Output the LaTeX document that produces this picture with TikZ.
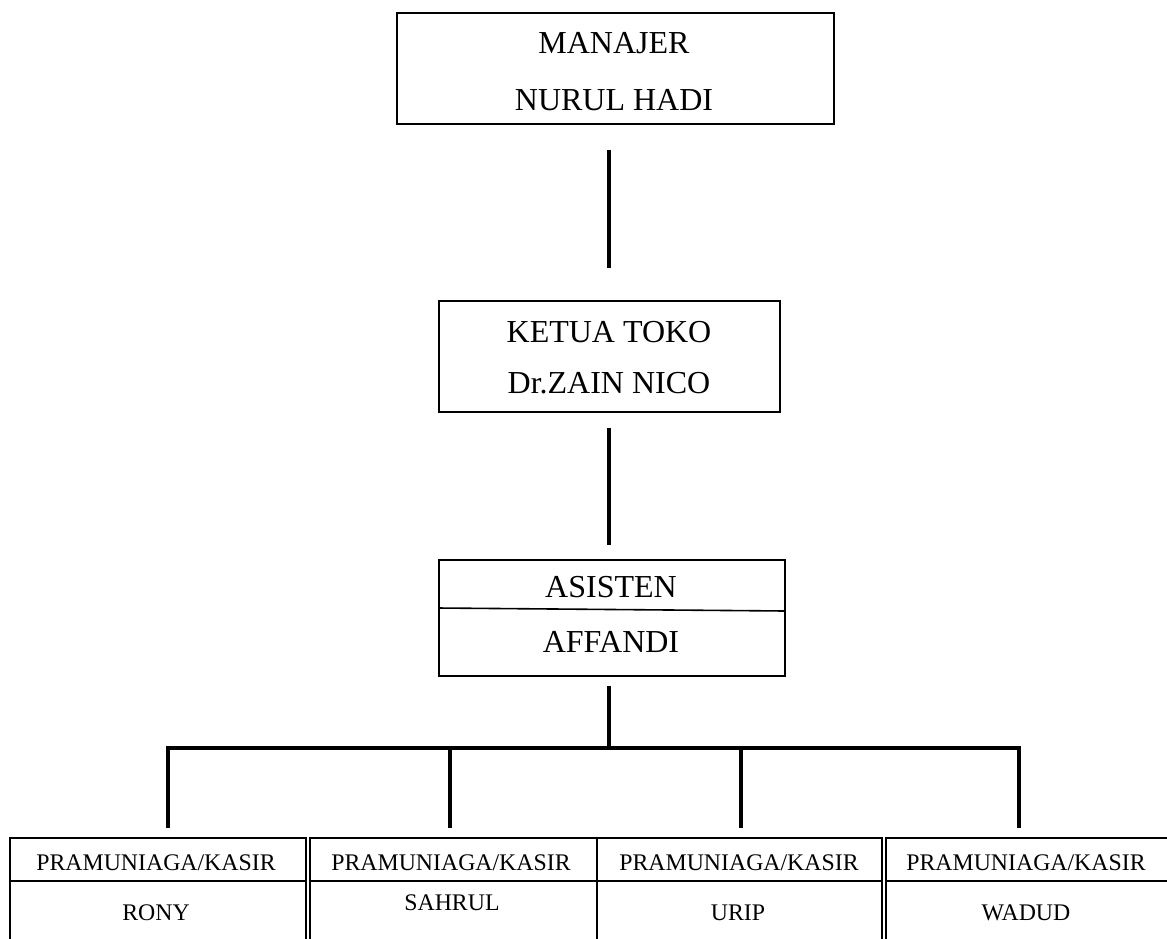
\documentclass[tikz,border=0pt]{standalone}
\usepackage{fontspec}
\setmainfont{Liberation Serif}
\begin{document}
\begin{tikzpicture}[x=1pt,y=-1pt,
  bigtxt/.style={font=\fontsize{32}{38}\selectfont, anchor=base, inner sep=0pt},
  smalltxt/.style={font=\fontsize{23.8}{28}\selectfont, anchor=base, inner sep=0pt},
  boxframe/.style={draw, line width=1.6pt, anchor=north west, inner sep=0pt},
  lowframe/.style={boxframe, line width=2.2pt},
  link/.style={line width=4pt}
]
\useasboundingbox (0,0) rectangle (1167,938);
% Manajer
\node[boxframe, minimum width=437pt, minimum height=111pt] (man) at (396,12) {};
\node[bigtxt] (man1) at (614,53) {MANAJER};
\node[bigtxt] (man2) at (614,110) {NURUL HADI};
% Ketua toko
\node[boxframe, minimum width=341pt, minimum height=111pt] (ket) at (438,300) {};
\node[bigtxt] (ket1) at (609,342) {KETUA TOKO};
\node[bigtxt] (ket2) at (609,393) {Dr.ZAIN NICO};
% Asisten
\node[boxframe, minimum width=346pt, minimum height=116pt] (asi) at (438,559) {};
\draw[line width=1.6pt] (asi.west |- 0,608) -- (asi.east |- 0,611);
\node[bigtxt] (asi1) at (611,597) {ASISTEN};
\node[bigtxt] (asi2) at (611,652) {AFFANDI};
% vertical links
\coordinate (l1a) at (609,150);
\coordinate (l1b) at (609,268);
\coordinate (l2a) at (609,428);
\coordinate (l2b) at (609,545);
\coordinate (l3a) at (609,686);
\coordinate (l3b) at (609,746);
\draw[link] (l1a) -- (l1b);
\draw[link] (l2a) -- (l2b);
\draw[link] (l3a) -- (l3b);
% bar and drops
\coordinate (d1) at (168,828);
\coordinate (d2) at (450,828);
\coordinate (d3) at (741,828);
\coordinate (d4) at (1019,828);
\draw[link, line join=miter] (d1) -- (168,748) -- (1019,748) -- (d4);
\draw[link] (450,748) -- (d2);
\draw[link] (741,748) -- (d3);
% bottom boxes
\node[lowframe, minimum width=296pt, minimum height=120pt] (b1) at (8.5,837) {};
\node[lowframe, minimum width=287pt, minimum height=120pt] (b2) at (309,837) {};
\node[lowframe, minimum width=285pt, minimum height=120pt] (b3) at (596,837) {};
\node[lowframe, minimum width=300pt, minimum height=120pt] (b4) at (885,837) {};
\foreach \b in {b1,b2,b3,b4}{
  \draw[line width=2.2pt] (\b.west |- 0,881) -- (\b.east |- 0,881);
}
\node[smalltxt] (t1) at (156,870) {PRAMUNIAGA/KASIR};
\node[smalltxt] (t2) at (451,870) {PRAMUNIAGA/KASIR};
\node[smalltxt] (t3) at (739,870) {PRAMUNIAGA/KASIR};
\node[smalltxt] (t4) at (1026,870) {PRAMUNIAGA/KASIR};
\node[smalltxt] (n1) at (156,920) {RONY};
\node[smalltxt] (n2) at (452,910) {SAHRUL};
\node[smalltxt] (n3) at (738,920) {URIP};
\node[smalltxt] (n4) at (1026,920) {WADUD};
\end{tikzpicture}
\end{document}
